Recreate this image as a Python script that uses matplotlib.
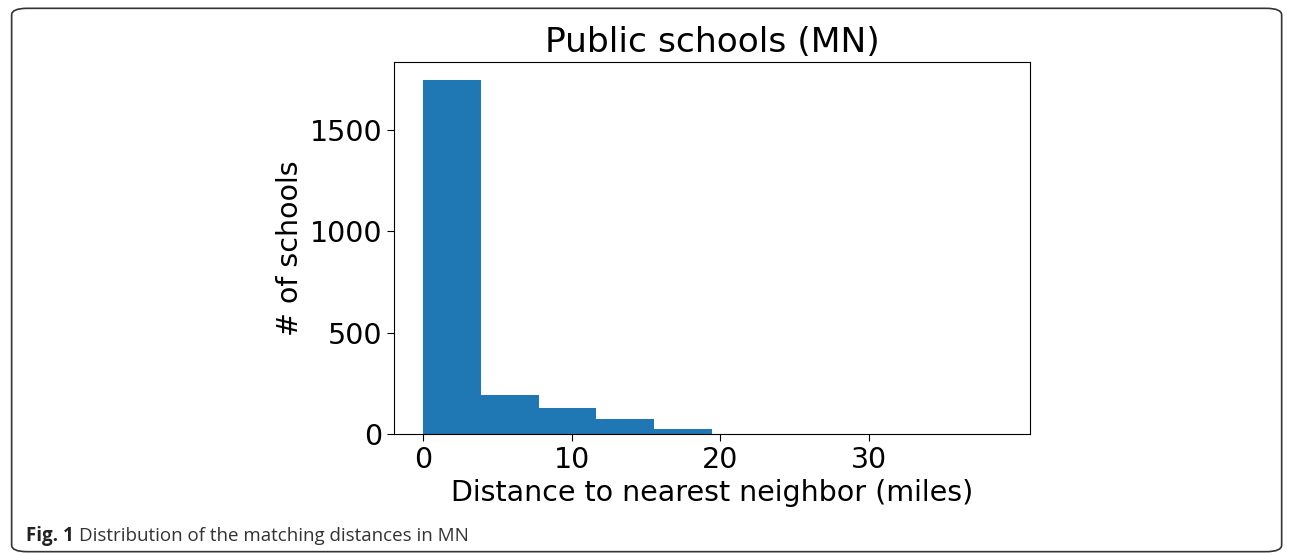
import numpy as np
import matplotlib.pyplot as plt
from matplotlib.patches import FancyBboxPatch

# histogram of nearest-neighbour distances (miles), 10 equal bins
max_distance = 38.9
counts = [1745, 194, 130, 75, 26, 2, 1, 1, 0, 1]

title = "Public schools (MN)"
xlabel = "Distance to nearest neighbor (miles)"
ylabel = "# of schools"
caption_bold = "Fig. 1"
caption_text = "Distribution of the matching distances in MN"


def main():
    edges = np.linspace(0, max_distance, len(counts) + 1)

    fig = plt.figure(figsize=(12.92, 5.55), dpi=100)

    # rounded frame around the whole figure
    frame = FancyBboxPatch((0.009, 0.006), 0.983, 0.979,
                           boxstyle="round,pad=0,rounding_size=0.012",
                           transform=fig.transFigure, fill=False,
                           edgecolor="#333333", linewidth=1.2)
    fig.patches.append(frame)

    ax = fig.add_axes([0.305, 0.218, 0.4923, 0.670])
    ax.hist(edges[:-1], bins=edges, weights=counts, color="#1f77b4")
    ax.set_title(title, fontsize=24.8, pad=7)
    ax.set_xlabel(xlabel, fontsize=20.5)
    ax.set_ylabel(ylabel, fontsize=20.5)
    ax.set_xticks([0, 10, 20, 30])
    ax.set_yticks([0, 500, 1000, 1500])
    ax.tick_params(labelsize=20.5, length=5)

    t = fig.text(26 / 1292, 1 - 541 / 555, caption_bold, fontsize=13.5,
                 fontweight="bold", family="Open Sans", color="#222222")
    fig.canvas.draw()
    bb = t.get_window_extent()
    fig.text((bb.x1 + 5) / 1292, 1 - 541 / 555, caption_text, fontsize=13.5,
             family="Open Sans", color="#333333")

    fig.savefig("out.png", dpi=100)


main()
